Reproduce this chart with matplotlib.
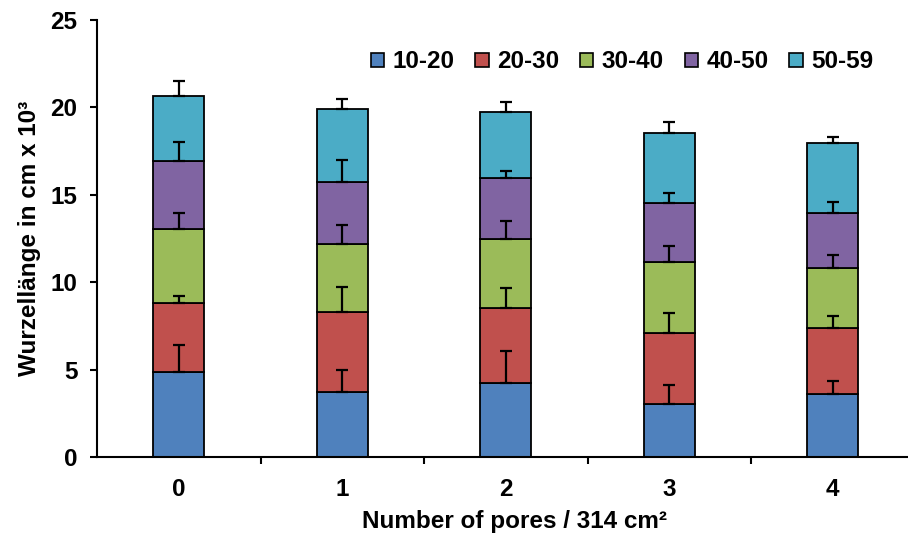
import numpy as np
import matplotlib
matplotlib.use("Agg")
import matplotlib.pyplot as plt
from matplotlib.patches import Patch

plt.rcParams['font.family'] = ['Liberation Sans', 'DejaVu Sans']
plt.rcParams['font.weight'] = 'bold'

# Data (root length, cm x 10^3, per depth class)
pores = ["0", "1", "2", "3", "4"]
classes = ["10-20", "20-30", "30-40", "40-50", "50-59"]
colors = ["#4F81BD", "#C0504D", "#9BBB59", "#8064A2", "#4BACC6"]

l_10_20 = [4.88, 3.74, 4.23, 3.01, 3.62]
l_20_30 = [3.95, 4.56, 4.29, 4.08, 3.78]
l_30_40 = [4.21, 3.90, 3.95, 4.08, 3.41]
l_40_50 = [3.89, 3.53, 3.51, 3.36, 3.17]
l_50_59 = [3.74, 4.18, 3.76, 4.01, 3.98]

e_10_20 = [1.53, 1.24, 1.82, 1.11, 0.71]
e_20_30 = [0.38, 1.41, 1.15, 1.13, 0.68]
e_30_40 = [0.90, 1.09, 1.01, 0.92, 0.75]
e_40_50 = [1.11, 1.24, 0.38, 0.55, 0.63]
e_50_59 = [0.86, 0.57, 0.59, 0.64, 0.36]

series = [l_10_20, l_20_30, l_30_40, l_40_50, l_50_59]
errors = [e_10_20, e_20_30, e_30_40, e_40_50, e_50_59]

W, H = 908, 537
fs = 17.5
fig = plt.figure(figsize=(W/100, H/100), dpi=100)
ax = fig.add_axes([97/W, 80/H, (W-97)/W, 437/H])

x = np.arange(len(pores))
bottom = np.zeros(len(pores))
tops = []
for vals, col, lab in zip(series, colors, classes):
    ax.bar(x, vals, width=0.31, bottom=bottom, color=col, edgecolor="black",
           linewidth=1.3, label=lab, zorder=2)
    bottom = bottom + np.array(vals)
    tops.append(bottom.copy())

# error bars only upwards from each segment top
for top, err in zip(tops, errors):
    ax.errorbar(x, top, yerr=[np.zeros(len(err)), err], fmt="none",
                ecolor="black", elinewidth=1.6, capsize=4, capthick=1.6, zorder=3)

ax.set_ylim(0, 25)
ax.set_xlim(-0.5, 4.46)
ax.set_yticks([0, 5, 10, 15, 20, 25])
ax.set_xticks(x)
ax.set_xticklabels(pores)
ax.set_xticks(np.arange(-0.5, 4.5, 1.0)[1:], minor=True)
ax.tick_params(axis="x", which="major", length=0, pad=15, labelsize=fs)
ax.tick_params(axis="x", which="minor", length=5, width=1.5, direction="out")
ax.tick_params(axis="y", length=5, width=1.5, pad=9, labelsize=fs)

for s in ["top", "right"]:
    ax.spines[s].set_visible(False)
for s in ["left", "bottom"]:
    ax.spines[s].set_linewidth(1.5)

ax.set_ylabel("Wurzellänge in cm x 10³", fontsize=fs, fontweight="bold")
ax.yaxis.set_label_coords(-56/(W-97), 0.5)
ax.set_xlabel("Number of pores / 314 cm²", fontsize=fs, fontweight="bold")
ax.xaxis.set_label_coords((515-97)/(W-97), -53/437)

handles = [Patch(facecolor=c, edgecolor="black", linewidth=1.2) for c in colors]
ax.legend(handles, classes, loc="center", bbox_to_anchor=(622/W, 1-62/H),
          bbox_transform=fig.transFigure, ncol=5, frameon=False, fontsize=fs,
          handlelength=0.55, handleheight=0.55, handletextpad=0.35, columnspacing=0.85)

fig.savefig("out.png", dpi=100)
